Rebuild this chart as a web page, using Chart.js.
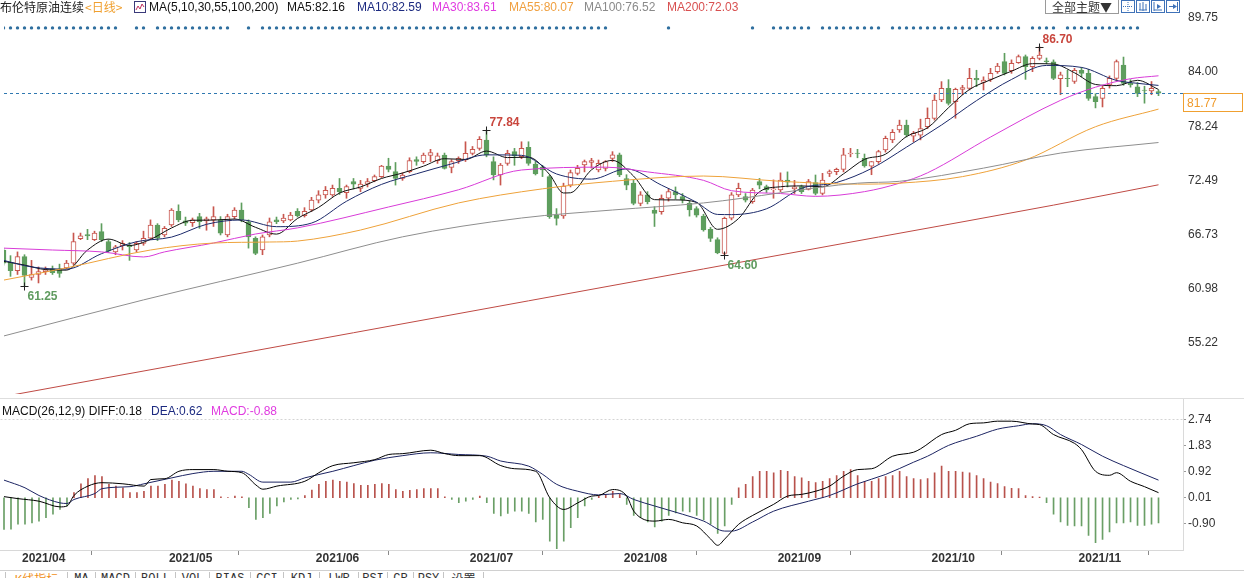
<!DOCTYPE html>
<html><head><meta charset="utf-8"><title>布伦特原油连续</title>
<script src="https://cdn.jsdelivr.net/npm/chart.js@4.4.1/dist/chart.umd.min.js"></script>
<style>
html,body{margin:0;padding:0;background:#fff;overflow:hidden}
body{position:relative;width:1244px;height:578px;font-family:"Liberation Sans",Arial,"Noto Sans CJK SC",sans-serif;font-size:12px;color:#222}
canvas{position:absolute;left:0;display:block}
#c1{top:0}
#c2{top:398px}
.t{position:absolute;white-space:nowrap;line-height:14px;z-index:5;font-size:12px}
.ln{position:absolute;left:0;width:1244px;height:1px;z-index:4}
.tab{position:absolute;top:572px;height:8px;border-left:1px solid #c4c4c4;font-size:12px;line-height:14px;text-align:center;overflow:hidden;z-index:5;color:#333;font-family:"Liberation Mono","DejaVu Sans Mono","Noto Sans CJK SC",monospace}
#theme{position:absolute;left:1045px;top:-1px;width:72px;height:13px;border:1px solid #9a9a9a;text-align:center;line-height:13px;font-size:12px;color:#333;z-index:5;font-family:"Noto Sans CJK SC",sans-serif}
.ico{position:absolute;top:0;width:12px;height:11px;border:1px solid #3f72b8;z-index:5}
#pbox{position:absolute;left:1183px;width:60px;height:19px;border:1px solid #f0a030;color:#f09a2a;line-height:19px;padding-left:3px;box-sizing:border-box;font-size:12px;z-index:5}
</style></head>
<body>
<canvas id="c1" width="1244" height="398"></canvas>
<canvas id="c2" width="1244" height="172"></canvas>
<div class="ln" style="top:398px;background:#dedede"></div>
<div class="ln" style="top:570px;background:#d0d0d0"></div>

<div class="t" style="left:0;top:0;font-family:'Noto Sans CJK SC',sans-serif">布伦特原油连续</div>
<div class="t" style="left:85px;top:0;color:#f0a030;font-family:'Noto Sans CJK SC',sans-serif">&lt;日线&gt;</div>
<svg style="position:absolute;left:134px;top:1px;z-index:5" width="12" height="12"><rect x="0.5" y="0.5" width="11" height="11" fill="#fff" stroke="#3a3a7a"/><polyline points="2,9 4,5 6,8 8,3 10,6" fill="none" stroke="#c03060" stroke-width="1"/></svg>
<div class="t" id="hMA" style="left:149px;top:0;color:#111"></div>
<div class="t" id="h5" style="left:287px;top:0;color:#111"></div>
<div class="t" id="h10" style="left:357px;top:0;color:#1c2a80"></div>
<div class="t" id="h30" style="left:432px;top:0;color:#e03ce0"></div>
<div class="t" id="h55" style="left:509px;top:0;color:#f0a040"></div>
<div class="t" id="h100" style="left:584px;top:0;color:#8a8a8a"></div>
<div class="t" id="h200" style="left:667px;top:0;color:#d85050"></div>

<div id="theme">全部主题▼</div>
<svg class="ico" style="left:1121px" width="12" height="11"><path d="M6 1v9M1 5.5h10" stroke="#3f72b8" stroke-dasharray="1,1"/></svg>
<svg class="ico" style="left:1136px" width="12" height="11"><path d="M3 2v7M6 1v9M9 3v6M2 9h8" stroke="#3f72b8"/></svg>
<svg class="ico" style="left:1151px" width="12" height="11"><path d="M2 1v9M2 9h8" stroke="#3f72b8"/><path d="M5 3l4 2.5-4 2.5z" fill="#3f72b8"/></svg>
<svg class="ico" style="left:1166px" width="12" height="11"><path d="M2 5.5h5" stroke="#3f72b8"/><path d="M6 3l4 2.5-4 2.5z" fill="#3f72b8"/><path d="M10.5 1v9" stroke="#3f72b8"/></svg>

<div id="pbox"></div>

<div class="t" id="mH1" style="left:2px;top:404px;color:#111"></div>
<div class="t" id="mH2" style="left:151px;top:404px;color:#1c2a80"></div>
<div class="t" id="mH3" style="left:211px;top:404px;color:#e03ce0"></div>

<div class="tab" style="left:5px;width:61px;color:#f09020;font-family:'Noto Sans CJK SC',sans-serif">K线指标</div>
<div class="tab" style="left:67px;width:27px">MA</div>
<div class="tab" style="left:95px;width:39px">MACD</div>
<div class="tab" style="left:135px;width:39px">BOLL</div>
<div class="tab" style="left:175px;width:33px">VOL</div>
<div class="tab" style="left:209px;width:40px">BIAS</div>
<div class="tab" style="left:250px;width:32px">CCI</div>
<div class="tab" style="left:283px;width:35px">KDJ</div>
<div class="tab" style="left:319px;width:38px">LWR</div>
<div class="tab" style="left:358px;width:28px">RSI</div>
<div class="tab" style="left:387px;width:25px">CR</div>
<div class="tab" style="left:413px;width:29px">PSY</div>
<div class="tab" style="left:443px;width:39px;font-family:'Noto Sans CJK SC',sans-serif">设置</div>
<div class="tab" style="left:483px;width:1px"></div>

<script>
// ---------------- DATA ----------------
const opens = [65.1,63.8,62.9,64.4,62.2,62.5,62.8,63.1,63.1,63.2,63.7,66.3,66.75,66.2,67.05,66.0,64.9,65.56,65.6,65.1,
65.8,66.35,67.75,66.7,67.76,69.2,68.2,68.0,68.65,68.2,68.3,68.3,66.7,68.65,69.35,68.1,66.34,65.1,66.7,68.3,
68.2,68.3,69.2,68.75,69.35,70.4,70.95,70.95,71.65,71.2,72.36,71.65,72.1,72.47,72.9,74.03,73.42,72.71,73.42,74.7,
74.49,75.16,74.6,75.19,73.88,74.59,74.66,75.37,75.9,76.79,74.49,73.07,74.31,75.55,75.02,76.0,74.24,73.9,72.89,68.82,
68.71,72.0,73.25,74.13,74.4,73.6,73.78,74.84,75.2,72.7,72.2,70.06,70.95,69.35,69.17,70.6,71.3,70.77,70.06,69.5,
68.7,67.3,66.2,64.75,68.47,70.95,70.77,70.24,72.36,71.83,71.5,71.48,72.54,71.6,71.83,71.55,72.26,71.12,73.25,73.43,
73.67,75.3,75.4,74.84,74.0,74.49,75.73,76.8,77.85,78.38,77.2,77.3,78.2,79.09,81.04,82.28,80.86,82.17,82.28,83.34,
82.9,83.23,84.05,85.11,84.15,85.0,85.64,84.58,85.46,85.2,85.1,83.3,83.34,83.0,84.2,83.87,81.39,81.21,82.63,83.34,
84.76,82.81,82.45,82.1,82.0,81.92];
const highs = [65.3,64.5,64.9,64.6,64.0,63.3,63.3,63.4,63.6,64.0,66.9,66.9,67.3,67.1,67.9,66.2,65.6,66.1,65.9,66.0,
67.1,68.3,67.9,67.6,69.5,69.9,68.6,68.5,69.0,68.6,69.7,68.65,68.9,69.6,70.1,68.3,66.5,66.7,68.5,68.6,
68.9,69.1,69.5,69.6,70.7,71.4,71.85,72.0,72.7,72.0,72.7,72.5,72.7,73.07,74.1,74.85,74.4,73.3,74.9,75.0,
75.4,75.8,75.4,75.4,74.7,75.0,76.6,76.1,77.15,77.84,75.0,74.3,75.7,75.9,76.6,76.6,74.5,74.1,73.07,69.5,
72.2,73.6,74.1,74.66,74.84,74.66,74.6,75.55,75.4,73.1,72.5,71.3,71.3,69.7,70.95,71.6,71.8,71.1,70.3,69.7,
68.9,67.5,66.4,68.6,71.2,72.2,71.1,71.65,72.7,72.0,72.55,73.3,73.4,72.5,72.0,72.6,73.07,73.25,73.6,73.8,
75.9,75.9,75.8,75.3,74.5,75.7,77.2,77.9,78.9,78.9,77.7,79.0,80.2,81.6,82.99,83.2,82.3,82.6,84.4,84.2,
83.5,84.4,84.93,86.0,85.3,85.82,85.82,85.64,86.70,85.5,85.3,84.0,84.2,84.4,84.5,84.3,81.7,82.5,83.6,85.29,
85.6,83.2,82.9,82.5,83.0,82.1];
const lows = [63.5,62.3,62.5,61.25,61.9,61.6,62.5,62.5,62.2,63.1,63.5,66.2,66.2,66.1,66.0,64.85,64.6,65.1,64.0,64.9,
65.6,66.2,66.1,66.5,67.6,68.1,67.7,67.6,67.4,67.2,67.6,66.7,66.5,68.4,68.1,65.3,64.6,64.6,66.5,67.9,
68.0,68.2,68.6,68.6,69.2,70.1,70.6,70.8,71.0,70.6,71.6,71.3,71.8,72.35,72.8,73.4,72.0,72.5,73.3,74.1,
74.3,74.5,74.3,73.7,73.3,74.3,74.5,75.2,75.7,75.0,72.55,72.0,74.1,74.1,74.8,74.1,73.07,72.9,68.46,67.75,
68.46,71.8,73.07,73.4,73.8,73.4,73.5,74.5,72.9,71.5,69.9,69.8,70.0,67.6,68.9,70.3,70.5,70.1,68.7,68.6,
67.1,66.0,64.7,64.6,68.3,70.77,70.2,70.06,71.6,71.2,70.6,71.3,71.8,71.1,71.1,71.48,70.95,70.95,72.9,73.1,
73.4,75.0,74.9,73.9,73.1,74.3,75.5,76.5,77.6,77.1,76.6,76.8,78.0,78.9,80.86,80.5,79.1,81.6,82.1,82.45,
82.1,83.0,83.87,83.7,83.87,84.93,83.23,84.05,85.3,84.9,83.2,81.6,82.45,82.8,83.5,81.0,80.2,80.3,82.3,83.1,
82.6,82.4,81.4,80.7,81.6,81.5];
const closes = [63.7,62.9,64.4,62.4,62.5,62.8,63.0,62.7,62.6,63.7,66.0,66.6,66.6,66.9,66.2,65.0,65.45,65.8,65.45,65.8,
66.35,67.75,66.35,67.4,69.35,68.3,67.95,68.3,68.1,68.4,68.65,66.9,68.65,69.35,68.3,66.5,64.75,66.5,68.1,68.1,
68.5,68.8,68.75,69.2,70.4,70.95,71.45,71.65,71.3,71.83,72.1,72.1,72.36,72.9,74.03,73.67,72.71,73.07,74.59,74.5,
75.19,75.44,75.1,73.78,74.49,74.84,75.37,75.8,76.86,75.19,73.07,74.13,75.37,75.09,75.9,74.31,73.18,73.6,68.64,68.46,
71.9,73.32,73.78,74.49,74.6,74.31,74.49,75.2,73.07,72.0,70.06,70.95,70.24,69.0,70.6,71.3,70.95,70.4,69.35,68.8,
67.23,66.34,64.8,68.47,70.95,71.65,70.4,71.47,72.0,71.48,71.6,72.54,72.3,71.8,71.3,72.36,71.12,72.54,73.43,73.67,
75.2,75.4,75.35,74.03,74.5,75.55,76.96,77.6,78.38,77.32,77.5,78.0,79.09,81.04,82.28,80.68,82.17,82.35,83.34,83.16,
83.16,83.87,84.65,83.87,84.93,85.64,84.58,85.46,85.8,85.1,83.34,83.7,83.3,84.2,83.87,81.21,80.86,82.28,83.34,85.11,
82.81,82.63,81.75,82.05,82.28,81.77];

// moving averages: [candle index, value]
const ma5 = [[0,63.9],[3,63.5],[6,63.02],[9,62.96],[12,65.1],[15,66.26],[18,65.58],[21,66.23],[24,67.44],[27,68.26],[30,68.28],[33,68.39],[36,67.51],[39,66.79],[42,68.45],[45,69.62],[48,71.15],[51,71.8],[54,72.7],[57,73.28],[60,74.01],[63,74.8],[66,74.72],[69,75.61],[72,74.92],[75,74.96],[78,73.13],[80,71.16],[81,71.18],[84,73.62],[87,74.62],[90,72.96],[93,70.45],[96,70.42],[99,70.16],[102,67.3],[105,68.44],[108,71.29],[111,71.82],[114,71.91],[117,71.82],[120,73.19],[123,74.73],[126,75.28],[129,77.16],[132,78.08],[135,80.22],[138,82.16],[141,83.18],[144,84.1],[147,84.9],[150,84.86],[153,83.93],[156,82.69],[159,82.56],[162,83.13],[165,82.16]];
const ma10 = [[0,64.0],[4,63.3],[9,63.07],[14,64.71],[19,65.98],[24,66.47],[29,67.83],[34,68.29],[39,67.58],[44,67.96],[49,70.28],[54,72.07],[59,73.2],[64,74.25],[69,75.21],[74,75.16],[79,73.18],[84,72.63],[89,73.72],[94,71.99],[99,70.17],[102,68.88],[104,68.86],[109,69.48],[114,71.65],[119,72.27],[124,73.76],[129,76.03],[134,78.38],[139,80.97],[144,83.22],[149,84.71],[154,84.5],[159,83.12],[162,82.81],[165,82.59]];
const ma30 = [[0,65.3],[7,65.1],[14,64.9],[20,64.36],[23,64.9],[30,65.84],[36,66.8],[42,67.45],[55,69.67],[65,71.5],[74,73.6],[86,73.9],[92,73.4],[100,72.5],[104,71.4],[111,71.1],[116,70.8],[123,71.3],[128,72.2],[132,73.3],[141,77.1],[151,81.0],[156,82.4],[161,83.3],[165,83.61]];
const ma55 = [[0,61.9],[9,63.2],[21,65.1],[30,65.84],[38,65.95],[42,66.05],[51,67.22],[65,70.1],[77,71.6],[87,72.4],[100,72.96],[111,72.4],[122,72.1],[128,72.2],[137,72.9],[146,74.66],[156,78.2],[165,80.07]];
const ma100 = [[0,55.96],[20,59.8],[42,63.7],[57,66.5],[74,68.5],[87,69.35],[100,70.1],[122,72.2],[128,72.4],[140,73.8],[151,75.4],[165,76.52]];
const ma200 = [[0,49.53],[25,52.92],[50,56.31],[75,59.7],[100,63.09],[125,66.48],[150,69.87],[165,72.03]];

// MACD(26,12,9)
const macdHist = [-1.11,-1.10,-0.93,-0.93,-0.88,-0.82,-0.70,-0.58,-0.41,-0.29,0.18,0.49,0.67,0.78,0.74,0.47,0.41,0.35,0.18,0.18,
0.23,0.41,0.41,0.47,0.62,0.58,0.49,0.41,0.32,0.29,0.29,0.03,0.01,0.06,0.03,-0.35,-0.76,-0.70,-0.55,-0.29,
-0.15,-0.06,-0.04,0.08,0.27,0.47,0.58,0.62,0.58,0.55,0.50,0.44,0.44,0.47,0.50,0.47,0.29,0.23,0.26,0.29,
0.32,0.32,0.32,0.03,-0.06,-0.17,-0.12,-0.06,0.06,-0.17,-0.55,-0.64,-0.55,-0.47,-0.47,-0.55,-0.85,-0.76,-1.52,-1.79,
-1.52,-1.05,-0.70,-0.29,-0.06,0.05,0.12,0.23,0.12,-0.23,-0.62,-0.70,-0.85,-1.02,-0.82,-0.62,-0.53,-0.47,-0.50,-0.62,
-0.78,-0.93,-1.25,-0.99,-0.23,0.35,0.47,0.74,0.93,0.93,0.88,0.96,0.93,0.74,0.70,0.58,0.53,0.58,0.67,0.78,
0.93,0.99,0.78,0.58,0.58,0.67,0.74,0.78,0.93,0.74,0.67,0.64,0.67,0.88,1.11,0.93,0.93,0.90,0.88,0.78,
0.67,0.55,0.50,0.39,0.33,0.32,0.08,0.04,0.02,-0.17,-0.58,-0.85,-0.97,-0.99,-0.99,-1.32,-1.58,-1.46,-1.20,-0.88,
-0.88,-0.85,-0.97,-0.97,-0.93,-0.88];
const difPts = [[0,0.04],[2,-0.03],[5,-0.12],[8,-0.32],[9,-0.29],[10,0.08],[12,0.41],[14,0.53],[17,0.49],[20,0.41],[21,0.64],[23,0.67],[25,0.93],[27,0.99],[30,0.99],[32,0.93],[34,0.88],[36,0.45],[37,0.3],[39,0.41],[43,0.58],[45,0.88],[47,1.13],[50,1.23],[53,1.34],[55,1.52],[57,1.55],[61,1.67],[63,1.55],[65,1.48],[68,1.48],[71,1.13],[73,1.02],[76,0.93],[78,0.0],[80,-0.41],[82,-0.18],[84,0.06],[85,0.08],[87,0.29],[89,0.06],[90,-0.47],[93,-0.82],[95,-0.76],[97,-0.88],[99,-0.99],[101,-1.45],[102,-1.67],[103,-1.45],[105,-0.93],[107,-0.62],[110,-0.23],[112,0.06],[114,0.12],[116,0.23],[118,0.41],[120,0.76],[122,0.99],[124,1.02],[127,1.46],[130,1.60],[131,1.72],[134,2.22],[136,2.37],[138,2.60],[140,2.63],[142,2.69],[144,2.69],[147,2.59],[148,2.57],[150,2.22],[153,1.91],[154,1.69],[156,0.93],[158,0.79],[159,0.88],[161,0.58],[163,0.39],[165,0.18]];
const deaPts = [[0,0.62],[3,0.35],[5,0.08],[8,-0.18],[9,-0.20],[10,-0.06],[13,0.15],[14,0.32],[18,0.39],[20,0.49],[24,0.70],[27,0.85],[30,0.93],[34,0.93],[35,0.82],[37,0.55],[41,0.55],[43,0.70],[47,0.93],[50,1.13],[53,1.32],[57,1.48],[61,1.58],[65,1.52],[69,1.46],[71,1.29],[75,1.11],[77,0.82],[79,0.47],[82,0.23],[85,0.10],[88,0.15],[90,-0.06],[93,-0.29],[97,-0.58],[100,-0.82],[103,-1.17],[104,-1.17],[107,-0.85],[110,-0.47],[115,-0.12],[118,0.08],[122,0.49],[126,0.82],[130,1.25],[132,1.46],[135,1.84],[139,2.16],[142,2.41],[145,2.53],[147,2.60],[149,2.53],[151,2.22],[154,1.87],[157,1.46],[160,1.13],[165,0.62]];

// axis ticks & labels
const monthIdx = [2,23,44,66,88,110,132,153];
const monthLabels = ['2021/04','2021/05','2021/06','2021/07','2021/08','2021/09','2021/10','2021/11'];
const priceTicks = [55.22,60.98,66.73,72.49,78.24,84.00,89.75];
const macdTicks = [-0.90,0.01,0.92,1.83,2.74];

// marker row (runs of candle indices) and annotated extremes
const markerRuns = [[0,16],[19,20],[22,32],[35,35],[37,86],[95,95],[107,107],[110,115],[117,125],[127,145],[147,150],[152,162]];
const annIdx = [3,69,103,148];
const annKind = ['low','high','low','high'];

// ---------------- STYLE / LAYOUT ----------------
const AXIS_W = 61;
const X0_PX = 3.5, X_STEP = 7;                 // candle 0 centre and candle spacing (px)
const P_REF = 89.75, P_REF_Y = 18, P_K = 325 / 34.53;   // price axis calibration (px per unit)
const M_ZERO_Y = 99.6, M_K = 28.57;             // MACD axis calibration in its canvas
const DOT_LEVEL = 88.7;
const UP = '#c8564e', DOWN = '#5e9e5e';
const C5 = '#111111', C10 = '#1c2a6a', C30 = '#d83cd8', C55 = '#eea23a', C100 = '#8e8e8e', C200 = '#bf4a44';

Chart.defaults.font.family = '"Liberation Sans", Arial, sans-serif';
Chart.defaults.font.size = 12;

const N = closes.length;
const idx = Array.from({length: N}, (_, i) => i);
const up = i => closes[i] >= opens[i];
const pts = arr => arr.map(([i, v]) => ({x: i, y: v}));
const markerIdx = [];
markerRuns.forEach(([a, b]) => { for (let i = a; i <= b; i++) markerIdx.push(i); });
const last = arr => arr[arr.length - 1][1];
const maLine = (arr, color, label) => ({type: 'line', label, data: pts(arr), borderColor: color, borderWidth: 1,
  pointRadius: 0, cubicInterpolationMode: 'monotone', order: 1});

const extremaPlugin = {
  id: 'extrema',
  afterDatasetsDraw(chart) {
    const {ctx} = chart; const x = chart.scales.x, y = chart.scales.y;
    ctx.save();
    const ly = Math.round(y.getPixelForValue(closes[N - 1])) + 0.5;
    ctx.strokeStyle = '#2f78b0'; ctx.lineWidth = 1; ctx.setLineDash([3, 3]);
    ctx.beginPath(); ctx.moveTo(chart.chartArea.left, ly); ctx.lineTo(chart.chartArea.right, ly); ctx.stroke();
    ctx.setLineDash([]);
    ctx.font = 'bold 12px "Liberation Sans", Arial, sans-serif';
    ctx.textBaseline = 'middle'; ctx.textAlign = 'left';
    annIdx.forEach((i, k) => {
      const hi = annKind[k] === 'high';
      const v = hi ? highs[i] : lows[i];
      const px = x.getPixelForValue(i);
      const py = Math.round(y.getPixelForValue(v)) + 0.5;
      ctx.strokeStyle = '#222';
      ctx.beginPath();
      ctx.moveTo(px - 4, py); ctx.lineTo(px + 4, py);
      ctx.moveTo(px, py - 4); ctx.lineTo(px, py + 4);
      ctx.stroke();
      ctx.fillStyle = hi ? '#c9463d' : '#5f9b5f';
      ctx.fillText(v.toFixed(2), px + 3, hi ? py - 8 : py + 10);
    });
    ctx.restore();
  }
};

const mainChart = new Chart(document.getElementById('c1'), {
  type: 'bar',
  data: {datasets: [
    {label: 'wick', data: idx.map(i => ({x: i, y: [lows[i], highs[i]]})), backgroundColor: idx.map(i => up(i) ? UP : DOWN),
     barThickness: 1, grouped: false, order: 5},
    {label: 'body', data: idx.map(i => ({x: i, y: [opens[i], closes[i]]})), backgroundColor: idx.map(i => up(i) ? '#ffffff' : DOWN),
     borderColor: idx.map(i => up(i) ? UP : DOWN), borderWidth: 1, borderSkipped: false, barThickness: 5, grouped: false, order: 4},
    maLine(ma200, C200, 'MA200'), maLine(ma100, C100, 'MA100'), maLine(ma55, C55, 'MA55'),
    maLine(ma30, C30, 'MA30'), maLine(ma10, C10, 'MA10'), maLine(ma5, C5, 'MA5'),
    {type: 'line', label: 'markers', data: markerIdx.map(i => ({x: i, y: DOT_LEVEL})), showLine: false,
     pointRadius: 1.7, pointBackgroundColor: '#2f6f9f', pointBorderWidth: 0, order: 1}
  ]},
  options: {
    responsive: false, animation: false, devicePixelRatio: 1,
    layout: {padding: 0},
    plugins: {legend: {display: false}, tooltip: {enabled: false}},
    scales: {
      x: {type: 'linear', min: -0.5, max: 168.5, display: false, offset: false},
      y: {position: 'right', min: 49.375, max: 91.66, grid: {display: false, drawTicks: false}, border: {display: false},
          afterBuildTicks: s => { s.ticks = priceTicks.map(v => ({value: v})); },
          afterFit: s => { s.width = AXIS_W; s.paddingTop = 0; s.paddingBottom = 0; },
          ticks: {callback: v => Number(v).toFixed(2), color: '#333', padding: 5}}
    }
  },
  plugins: [extremaPlugin]
});

const macdChart = new Chart(document.getElementById('c2'), {
  type: 'bar',
  data: {datasets: [
    {label: 'MACD', data: idx.map(i => ({x: i, y: macdHist[i]})), backgroundColor: macdHist.map(v => v >= 0 ? '#b8524c' : '#6a9f66'),
     barThickness: 1, grouped: false, order: 3},
    {type: 'line', label: 'DEA', data: pts(deaPts), borderColor: '#1c2462', borderWidth: 1, pointRadius: 0, cubicInterpolationMode: 'monotone', order: 2},
    {type: 'line', label: 'DIFF', data: pts(difPts), borderColor: '#000000', borderWidth: 1, pointRadius: 0, cubicInterpolationMode: 'monotone', order: 1}
  ]},
  options: {
    responsive: false, animation: false, devicePixelRatio: 1,
    layout: {padding: 0},
    plugins: {legend: {display: false}, tooltip: {enabled: false}},
    scales: {
      x: {type: 'linear', min: -0.5, max: 168.5, offset: false, position: 'bottom',
          afterBuildTicks: s => { s.ticks = monthIdx.map(v => ({value: v})); },
          afterFit: s => { s.height = 20; s.paddingLeft = 0; s.paddingRight = 0; },
          grid: {drawOnChartArea: false, drawTicks: true, tickLength: 5, tickColor: '#8a8a8a'},
          border: {display: true, color: '#d8d8d8'},
          ticks: {autoSkip: false, maxRotation: 0, minRotation: 0, align: 'start', labelOffset: 4, padding: -4, color: '#333',
                  font: {size: 12, weight: 'bold'},
                  callback: v => { const k = monthIdx.indexOf(v); return k >= 0 ? monthLabels[k] : ''; }}},
      y: {position: 'right', min: -1.834, max: 3.486,
          afterBuildTicks: s => { s.ticks = macdTicks.map(v => ({value: v})); },
          afterFit: s => { s.width = AXIS_W; s.paddingTop = 0; s.paddingBottom = 0; },
          grid: {drawOnChartArea: true, drawTicks: true, tickLength: 3, tickColor: '#9a9a9a',
                 color: c => (c.tick && c.tick.value === macdTicks[macdTicks.length - 1]) ? '#d4d4d4' : 'rgba(0,0,0,0)'},
          border: {display: true, color: '#dadada', dash: [2, 2]},
          ticks: {callback: v => Number(v).toFixed(2), color: '#333', padding: 2}}
    }
  }
});

// calibrate the value ranges to the actual chart areas so both panels share the same pixel mapping
function calibrate(chart, valueAt) {
  const a = chart.chartArea;
  chart.options.scales.x.min = (a.left - X0_PX) / X_STEP;
  chart.options.scales.x.max = (a.right - X0_PX) / X_STEP;
  chart.options.scales.y.min = valueAt(a.bottom);
  chart.options.scales.y.max = valueAt(a.top);
  chart.update('none');
}
calibrate(mainChart, py => P_REF - (py - P_REF_Y) / P_K);
calibrate(macdChart, py => (M_ZERO_Y - py) / M_K);

// header texts from data
document.getElementById('hMA').textContent = 'MA(5,10,30,55,100,200)';
document.getElementById('h5').textContent = 'MA5:' + last(ma5).toFixed(2);
document.getElementById('h10').textContent = 'MA10:' + last(ma10).toFixed(2);
document.getElementById('h30').textContent = 'MA30:' + last(ma30).toFixed(2);
document.getElementById('h55').textContent = 'MA55:' + last(ma55).toFixed(2);
document.getElementById('h100').textContent = 'MA100:' + last(ma100).toFixed(2);
document.getElementById('h200').textContent = 'MA200:' + last(ma200).toFixed(2);
document.getElementById('mH1').textContent = 'MACD(26,12,9) DIFF:' + last(difPts).toFixed(2);
document.getElementById('mH2').textContent = 'DEA:' + last(deaPts).toFixed(2);
document.getElementById('mH3').textContent = 'MACD:' + macdHist[N - 1].toFixed(2);

const pbox = document.getElementById('pbox');
pbox.textContent = closes[N - 1].toFixed(2);
pbox.style.top = Math.round(mainChart.scales.y.getPixelForValue(closes[N - 1])) + 'px';
</script>
</body></html>
